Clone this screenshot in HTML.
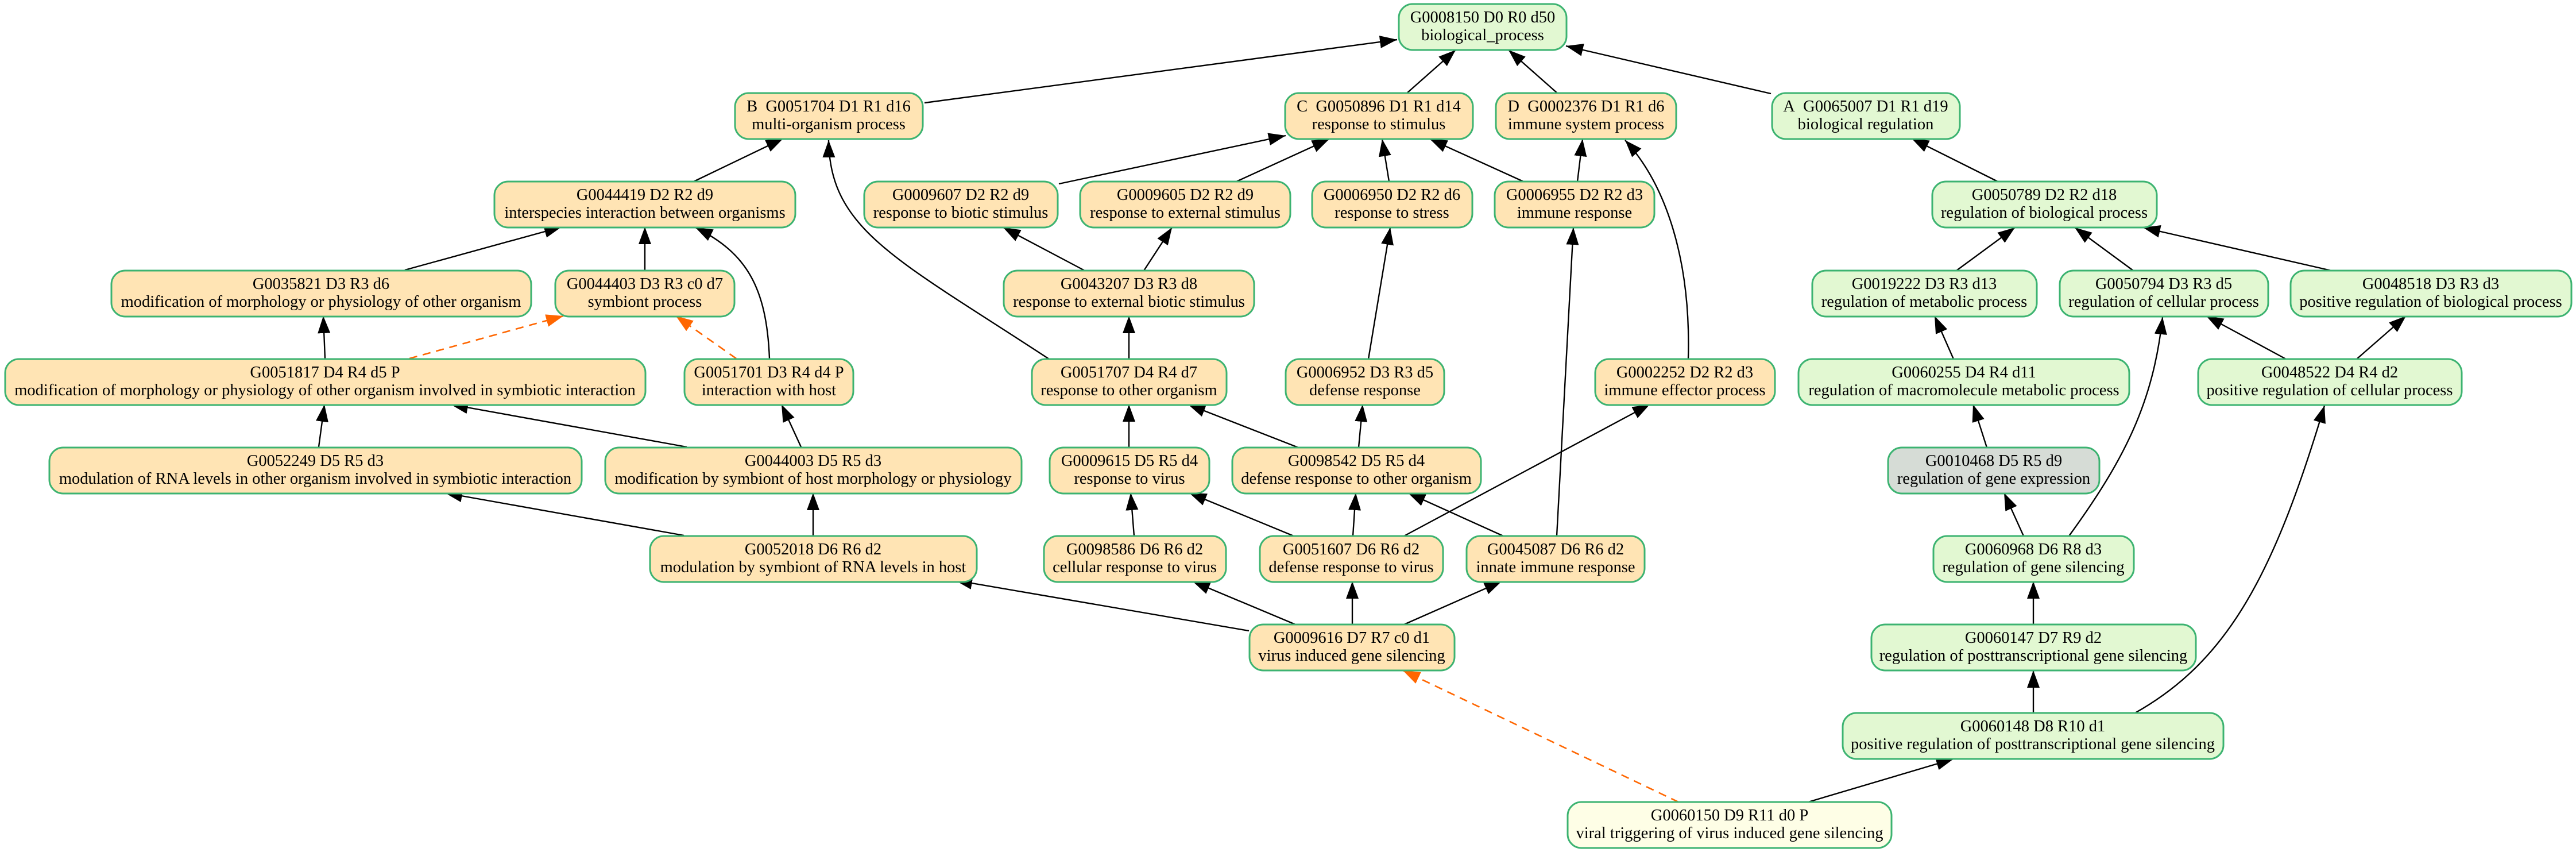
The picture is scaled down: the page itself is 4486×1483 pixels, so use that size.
<!DOCTYPE html>
<html><head><meta charset="utf-8"><style>
html,body{margin:0;padding:0;background:#fff;}
svg{display:block;}
text{font-family:"Liberation Serif",serif;font-size:28.5px;fill:#000;text-anchor:middle;}
.o{fill:#ffe4b4;stroke:#3cb371;stroke-width:3;}
.g{fill:#e2f8d2;stroke:#3cb371;stroke-width:3;}
.s{fill:#d6dcd6;stroke:#3cb371;stroke-width:3;}
.y{fill:#fefee6;stroke:#3cb371;stroke-width:3;}
.e{fill:none;stroke:#000;stroke-width:2.4;marker-end:url(#a);}
.d{fill:none;stroke:#ff6600;stroke-width:2.6;stroke-dasharray:14,10;marker-end:url(#b);}
</style></head><body>
<svg width="4486" height="1483" viewBox="0 0 4486 1483" xmlns="http://www.w3.org/2000/svg">
<defs>
<marker id="a" markerUnits="userSpaceOnUse" markerWidth="32" markerHeight="24" refX="30" refY="11" orient="auto"><path d="M0,0 L30,11 L0,22 Z" fill="#000"/></marker>
<marker id="b" markerUnits="userSpaceOnUse" markerWidth="32" markerHeight="24" refX="30" refY="11" orient="auto"><path d="M0,0 L30,11 L0,22 Z" fill="#ff6600"/></marker>
</defs>
<path class="e" d="M1610,179 L2433,69"/>
<path class="e" d="M2449,163 L2535,87"/>
<path class="e" d="M2713,163 L2627,87"/>
<path class="e" d="M3084,163 L2727,80"/>
<path class="e" d="M1208,316 L1364,241"/>
<path class="e" d="M1827,625 C1560,450 1445,400 1443,244"/>
<path class="e" d="M1844,320 L2239,236"/>
<path class="e" d="M2153,316 L2315,242"/>
<path class="e" d="M2419,316 L2407,242"/>
<path class="e" d="M2653,316 L2490,242"/>
<path class="e" d="M2747,316 L2756,242"/>
<path class="e" d="M2940,625 C2945,450 2900,320 2830,244"/>
<path class="e" d="M3479,316 L3329,241"/>
<path class="e" d="M705,470 L978,395"/>
<path class="e" d="M1123,470 L1123,395"/>
<path class="e" d="M1340,624 C1335,500 1300,440 1211,396"/>
<path class="e" d="M1889,471 L1747,396"/>
<path class="e" d="M1992,471 L2041,396"/>
<path class="e" d="M3407,471 L3509,396"/>
<path class="e" d="M3715,471 L3613,396"/>
<path class="e" d="M4060,471 L3732,396"/>
<path class="e" d="M566,624 L563,550"/>
<path class="d" d="M713,624 L981,550"/>
<path class="d" d="M1282,624 L1177,550"/>
<path class="e" d="M1966,625 L1966,550"/>
<path class="e" d="M2383,625 L2421,396"/>
<path class="e" d="M3402,625 L3369,550"/>
<path class="e" d="M3981,625 L3842,550"/>
<path class="e" d="M4104,625 L4190,550"/>
<path class="e" d="M555,778 L565,704"/>
<path class="e" d="M1196,778 L785,704"/>
<path class="e" d="M1395,778 L1361,704"/>
<path class="e" d="M1966,779 L1966,704"/>
<path class="e" d="M2261,779 L2069,704"/>
<path class="e" d="M2366,779 L2373,704"/>
<path class="e" d="M3603,933 C3700,800 3750,700 3766,552"/>
<path class="e" d="M3460,779 L3436,704"/>
<path class="e" d="M3718,1241 C3880,1150 3960,1000 4048,706"/>
<path class="e" d="M1191,932 L775,858"/>
<path class="e" d="M1416,932 L1416,858"/>
<path class="e" d="M1975,933 L1969,858"/>
<path class="e" d="M2253,933 L2071,858"/>
<path class="e" d="M2356,933 L2361,858"/>
<path class="e" d="M2445,933 L2873,704"/>
<path class="e" d="M2618,933 L2452,858"/>
<path class="e" d="M2711,933 L2740,396"/>
<path class="e" d="M3524,933 L3490,858"/>
<path class="e" d="M2175,1098 L1663,1010"/>
<path class="e" d="M2256,1087 L2077,1012"/>
<path class="e" d="M2355,1087 L2355,1012"/>
<path class="e" d="M2445,1087 L2615,1012"/>
<path class="e" d="M3541,1087 L3541,1012"/>
<path class="e" d="M3541,1241 L3541,1167"/>
<path class="e" d="M3149,1396 L3402,1321"/>
<path class="d" d="M2923,1396 L2443,1167"/>

<rect class="g" x="2436" y="7" width="292" height="80" rx="24"/><text x="2582" y="39">G0008150 D0 R0 d50</text><text x="2582" y="70">biological_process</text>

<rect class="o" x="1280" y="162" width="327" height="80" rx="24"/><text x="1443" y="194">B&#160;&#160;G0051704 D1 R1 d16</text><text x="1443" y="225">multi-organism process</text>
<rect class="o" x="2238" y="162" width="327" height="80" rx="24"/><text x="2401" y="194">C&#160;&#160;G0050896 D1 R1 d14</text><text x="2401" y="225">response to stimulus</text>
<rect class="o" x="2605" y="162" width="314" height="80" rx="24"/><text x="2762" y="194">D&#160;&#160;G0002376 D1 R1 d6</text><text x="2762" y="225">immune system process</text>
<rect class="g" x="3086" y="162" width="327" height="80" rx="24"/><text x="3249" y="194">A&#160;&#160;G0065007 D1 R1 d19</text><text x="3249" y="225">biological regulation</text>

<rect class="o" x="861" y="316" width="524" height="80" rx="24"/><text x="1123" y="348">G0044419 D2 R2 d9</text><text x="1123" y="379">interspecies interaction between organisms</text>
<rect class="o" x="1505" y="316" width="337" height="80" rx="24"/><text x="1673" y="348">G0009607 D2 R2 d9</text><text x="1673" y="379">response to biotic stimulus</text>
<rect class="o" x="1881" y="316" width="366" height="80" rx="24"/><text x="2064" y="348">G0009605 D2 R2 d9</text><text x="2064" y="379">response to external stimulus</text>
<rect class="o" x="2285" y="316" width="279" height="80" rx="24"/><text x="2424" y="348">G0006950 D2 R2 d6</text><text x="2424" y="379">response to stress</text>
<rect class="o" x="2603" y="316" width="278" height="80" rx="24"/><text x="2742" y="348">G0006955 D2 R2 d3</text><text x="2742" y="379">immune response</text>
<rect class="g" x="3365" y="316" width="391" height="80" rx="24"/><text x="3560" y="348">G0050789 D2 R2 d18</text><text x="3560" y="379">regulation of biological process</text>

<rect class="o" x="194" y="471" width="731" height="80" rx="24"/><text x="559" y="503">G0035821 D3 R3 d6</text><text x="559" y="534">modification of morphology or physiology of other organism</text>
<rect class="o" x="967" y="471" width="312" height="80" rx="24"/><text x="1123" y="503">G0044403 D3 R3 c0 d7</text><text x="1123" y="534">symbiont process</text>
<rect class="o" x="1748" y="471" width="436" height="80" rx="24"/><text x="1966" y="503">G0043207 D3 R3 d8</text><text x="1966" y="534">response to external biotic stimulus</text>
<rect class="g" x="3156" y="471" width="391" height="80" rx="24"/><text x="3351" y="503">G0019222 D3 R3 d13</text><text x="3351" y="534">regulation of metabolic process</text>
<rect class="g" x="3587" y="471" width="363" height="80" rx="24"/><text x="3768" y="503">G0050794 D3 R3 d5</text><text x="3768" y="534">regulation of cellular process</text>
<rect class="g" x="3989" y="471" width="489" height="80" rx="24"/><text x="4233" y="503">G0048518 D3 R3 d3</text><text x="4233" y="534">positive regulation of biological process</text>

<rect class="o" x="9" y="625" width="1115" height="80" rx="24"/><text x="566" y="657">G0051817 D4 R4 d5 P</text><text x="566" y="688">modification of morphology or physiology of other organism involved in symbiotic interaction</text>
<rect class="o" x="1192" y="625" width="294" height="80" rx="24"/><text x="1339" y="657">G0051701 D3 R4 d4 P</text><text x="1339" y="688">interaction with host</text>
<rect class="o" x="1797" y="625" width="339" height="80" rx="24"/><text x="1966" y="657">G0051707 D4 R4 d7</text><text x="1966" y="688">response to other organism</text>
<rect class="o" x="2239" y="625" width="276" height="80" rx="24"/><text x="2377" y="657">G0006952 D3 R3 d5</text><text x="2377" y="688">defense response</text>
<rect class="o" x="2778" y="625" width="313" height="80" rx="24"/><text x="2934" y="657">G0002252 D2 R2 d3</text><text x="2934" y="688">immune effector process</text>
<rect class="g" x="3132" y="625" width="576" height="80" rx="24"/><text x="3420" y="657">G0060255 D4 R4 d11</text><text x="3420" y="688">regulation of macromolecule metabolic process</text>
<rect class="g" x="3828" y="625" width="459" height="80" rx="24"/><text x="4057" y="657">G0048522 D4 R4 d2</text><text x="4057" y="688">positive regulation of cellular process</text>

<rect class="o" x="86" y="779" width="927" height="80" rx="24"/><text x="549" y="811">G0052249 D5 R5 d3</text><text x="549" y="842">modulation of RNA levels in other organism involved in symbiotic interaction</text>
<rect class="o" x="1054" y="779" width="725" height="80" rx="24"/><text x="1416" y="811">G0044003 D5 R5 d3</text><text x="1416" y="842">modification by symbiont of host morphology or physiology</text>
<rect class="o" x="1828" y="779" width="278" height="80" rx="24"/><text x="1967" y="811">G0009615 D5 R5 d4</text><text x="1967" y="842">response to virus</text>
<rect class="o" x="2146" y="779" width="433" height="80" rx="24"/><text x="2362" y="811">G0098542 D5 R5 d4</text><text x="2362" y="842">defense response to other organism</text>
<rect class="s" x="3288" y="779" width="368" height="80" rx="24"/><text x="3472" y="811">G0010468 D5 R5 d9</text><text x="3472" y="842">regulation of gene expression</text>

<rect class="o" x="1132" y="933" width="569" height="80" rx="24"/><text x="1416" y="965">G0052018 D6 R6 d2</text><text x="1416" y="996">modulation by symbiont of RNA levels in host</text>
<rect class="o" x="1818" y="933" width="317" height="80" rx="24"/><text x="1976" y="965">G0098586 D6 R6 d2</text><text x="1976" y="996">cellular response to virus</text>
<rect class="o" x="2194" y="933" width="319" height="80" rx="24"/><text x="2353" y="965">G0051607 D6 R6 d2</text><text x="2353" y="996">defense response to virus</text>
<rect class="o" x="2554" y="933" width="310" height="80" rx="24"/><text x="2709" y="965">G0045087 D6 R6 d2</text><text x="2709" y="996">innate immune response</text>
<rect class="g" x="3367" y="933" width="349" height="80" rx="24"/><text x="3541" y="965">G0060968 D6 R8 d3</text><text x="3541" y="996">regulation of gene silencing</text>

<rect class="o" x="2176" y="1087" width="357" height="80" rx="24"/><text x="2354" y="1119">G0009616 D7 R7 c0 d1</text><text x="2354" y="1150">virus induced gene silencing</text>
<rect class="g" x="3259" y="1087" width="565" height="80" rx="24"/><text x="3541" y="1119">G0060147 D7 R9 d2</text><text x="3541" y="1150">regulation of posttranscriptional gene silencing</text>

<rect class="g" x="3209" y="1241" width="663" height="80" rx="24"/><text x="3540" y="1273">G0060148 D8 R10 d1</text><text x="3540" y="1304">positive regulation of posttranscriptional gene silencing</text>

<rect class="y" x="2730" y="1396" width="564" height="80" rx="24"/><text x="3012" y="1428">G0060150 D9 R11 d0 P</text><text x="3012" y="1459">viral triggering of virus induced gene silencing</text>
</svg>
</body></html>
